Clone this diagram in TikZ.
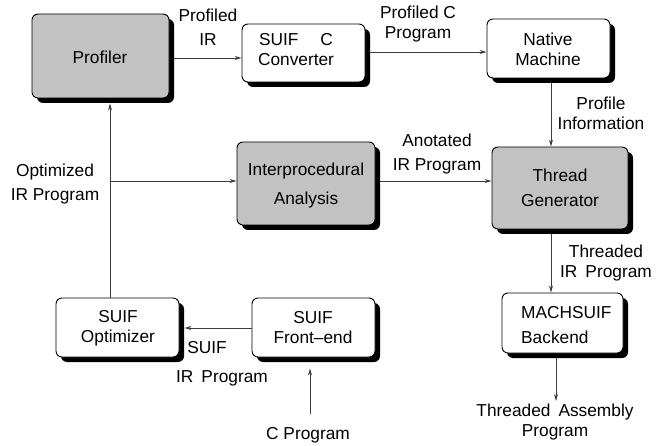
\documentclass[tikz,border=0pt]{standalone}
\usepackage{fontspec}
\setmainfont{Liberation Sans}
\usetikzlibrary{shadows,arrows.meta}
\definecolor{boxgray}{RGB}{194,194,194}
\definecolor{linegray}{RGB}{60,60,60}
\begin{document}
\begin{tikzpicture}[x=1pt,y=-1pt,
  box/.style={draw=black,line width=0.9pt,rounded corners=6pt,fill=white,
    drop shadow={shadow xshift=5pt,shadow yshift=-5pt,fill=black,opacity=1},inner sep=0pt},
  gbox/.style={box,fill=boxgray},
  lbl/.style={font=\fontsize{17.3}{20}\selectfont,align=center,inner sep=0pt},
  arr/.style={draw=linegray,line width=0.8pt,-{Stealth[length=7pt,width=4pt]}},
  ln/.style={draw=linegray,line width=0.8pt}]
\useasboundingbox (0,0) rectangle (658,446);
% boxes
\node[gbox,minimum width=137pt,minimum height=84pt] (prof) at (100.5,56) {};
\node[box,minimum width=123pt,minimum height=58pt] (conv) at (303.5,53) {};
\node[box,minimum width=123pt,minimum height=59pt] (nat) at (548.5,48.5) {};
\node[gbox,minimum width=138pt,minimum height=83pt] (int) at (306,183.5) {};
\node[gbox,minimum width=136pt,minimum height=82pt] (thr) at (560,188) {};
\node[box,minimum width=123pt,minimum height=59pt] (opt) at (117.5,327.5) {};
\node[box,minimum width=123pt,minimum height=59pt] (fe) at (313.5,327.5) {};
\node[box,minimum width=121pt,minimum height=60pt] (mach) at (562.5,323) {};
% box texts
\node[lbl] (tprof) at (100,57) {Profiler};
\node[lbl] (tconv) at (296,50) {SUIF\hspace{22pt}C\\Converter};
\node[lbl] (tnat) at (548,49) {Native\\Machine};
\node[lbl] (tint) at (306,186) {Interprocedural\\[9pt]Analysis};
\node[lbl] (tthr) at (560,188) {Thread\\[5pt]Generator};
\node[lbl] (topt) at (118,328) {SUIF\\Optimizer};
\node[lbl] (tfe) at (313,328) {SUIF\\Front--end};
\node[lbl,align=left,anchor=west] (tmach) at (521,325) {MACHSUIF\\[5pt]Backend};
% edge labels
\node[lbl] (l1) at (208,27) {Profiled\\[4pt]IR};
\node[lbl] (l2) at (418,24) {Profiled C\\Program};
\node[lbl] (l3) at (601,113) {Profile\\Information};
\node[lbl] (l4) at (437,154) {Anotated\\[4pt]IR Program};
\node[lbl] (l5) at (55,184) {Optimized\\[4pt]IR Program};
\node[lbl] (l6) at (606,263) {Threaded\\IR\hspace{8pt}Program};
\node[lbl] (l7) at (207,348) {SUIF};
\node[lbl] (l8) at (222,378) {IR\hspace{8pt}Program};
\node[lbl] (l9) at (308,435) {C Program};
\node[lbl] (l10) at (555,422) {Threaded\hspace{8pt}Assembly\\Program};
% free ends
\coordinate (j) at (110,181);
\coordinate (cin) at (310,414);
\coordinate (mout) at (556,401);
% connectors
\draw[arr] ([xshift=5pt,yshift=-2pt]prof.east) -- ([yshift=-5pt]conv.west);
\draw[arr] ([xshift=4pt,yshift=1pt]conv.east) -- ([yshift=-3.5pt]nat.west);
\draw[arr] ([xshift=2.5pt,yshift=-5pt]nat.south) -- ([xshift=-9pt]thr.north);
\draw[arr] ([xshift=5pt,yshift=2.5pt]int.east) -- ([yshift=7pt]thr.west);
\draw[arr] ([xshift=-7.5pt]opt.north) -- ([xshift=9.5pt,yshift=-5pt]prof.south);
\draw[arr] (j) -- ([yshift=2.5pt]int.west);
\draw[arr] ([yshift=-0.5pt]fe.west) -- ([xshift=5pt,yshift=-0.5pt]opt.east);
\draw[arr] (cin) -- ([xshift=-3.5pt,yshift=-11pt]fe.south);
\draw[arr] ([xshift=-9pt,yshift=-5pt]thr.south) -- ([xshift=-11.5pt]mach.north);
\draw[arr] ([xshift=-6.5pt,yshift=-5pt]mach.south) -- (mout);
\end{tikzpicture}
\end{document}
